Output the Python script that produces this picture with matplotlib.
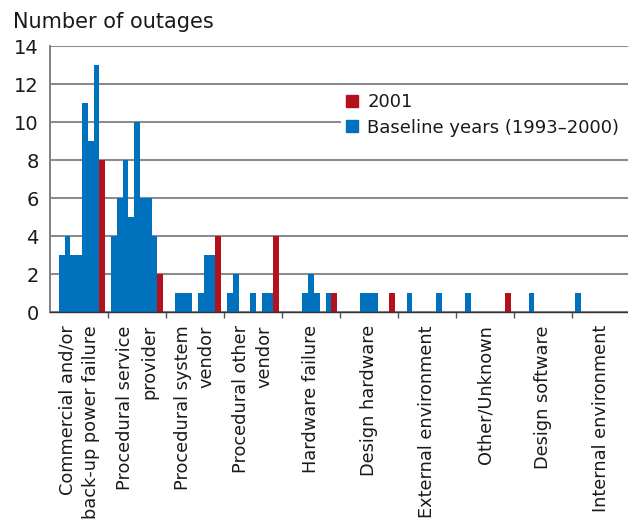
import matplotlib
matplotlib.use("Agg")

import matplotlib.pyplot as plt
from matplotlib.patches import Patch
import numpy as np

# categories (x axis)
categories = [
    "Commercial and/or\nback-up power failure",
    "Procedural service\nprovider",
    "Procedural system\nvendor",
    "Procedural other\nvendor",
    "Hardware failure",
    "Design hardware",
    "External environment",
    "Other/Unknown",
    "Design software",
    "Internal environment",
]

# outages per year 1993..2000, one row per category
baseline = [
    [0, 3, 4, 3, 3, 11, 9, 13],
    [4, 6, 8, 5, 10, 6, 6, 4],
    [0, 1, 1, 1, 0, 1, 3, 3],
    [1, 2, 0, 0, 1, 0, 1, 1],
    [0, 0, 0, 1, 2, 1, 0, 1],
    [0, 0, 0, 1, 1, 1, 0, 0],
    [0, 1, 0, 0, 0, 0, 1, 0],
    [0, 1, 0, 0, 0, 0, 0, 0],
    [0, 0, 1, 0, 0, 0, 0, 0],
    [1, 0, 0, 0, 0, 0, 0, 0],
]

# outages in 2001
y2001 = [8, 2, 4, 4, 1, 1, 0, 1, 0, 0]

yticks = [0, 2, 4, 6, 8, 10, 12, 14]

BLUE = "#0071bc"
RED = "#b3121c"
GRID = "#8c8c8c"

W, H = 628, 523
fig = plt.figure(figsize=(W / 100, H / 100), dpi=100)
ax = fig.add_axes([50 / W, 1 - 312 / H, 578 / W, 266 / H])

bw = 0.1
for i, vals in enumerate(baseline):
    xs = i + 0.05 + bw * np.arange(len(vals))
    ax.bar(xs, vals, width=bw, align="edge", color=BLUE, linewidth=0, zorder=3)
    ax.bar(i + 0.05 + bw * len(vals), y2001[i], width=bw, align="edge",
           color=RED, linewidth=0, zorder=3)

ax.set_xlim(0, 578 / 58)
ax.set_ylim(0, 14)
ax.set_yticks(yticks)
ax.tick_params(axis="y", length=0, pad=8, labelsize=14, labelcolor="#1a1a1a")
ax.yaxis.grid(True, color=GRID, linewidth=1.5, zorder=0)
ax.set_axisbelow(True)

# boundaries between categories as ticks, names at the centres
ax.set_xticks(np.arange(1, len(categories)))
ax.set_xticklabels([])
ax.tick_params(axis="x", which="major", length=4, width=1, color="#555555")
ax.set_xticks(np.arange(len(categories)) + 0.5, minor=True)
ax.set_xticklabels(categories, minor=True, rotation=90, ha="center", va="top",
                   fontsize=12.8, color="#1a1a1a", multialignment="right",
                   linespacing=1.42)
ax.tick_params(axis="x", which="minor", length=0, pad=9.5)

for s in ["top", "right"]:
    ax.spines[s].set_visible(False)
ax.spines["left"].set_color("#808080")
ax.spines["left"].set_linewidth(1.4)
ax.spines["bottom"].set_color("#333333")
ax.spines["bottom"].set_linewidth(1.0)
ax.spines["bottom"].set_zorder(4)

fig.text(13 / W, 1 - 28 / H, "Number of outages", fontsize=15,
         color="#1a1a1a", va="baseline", ha="left")

handles = [Patch(color=RED, label="2001"),
           Patch(color=BLUE, label="Baseline years (1993\u20132000)")]
leg = fig.legend(handles=handles, loc="upper left", mode="expand",
                 bbox_to_anchor=(341 / W, 1 - 88 / H, (W - 341) / W, 0),
                 frameon=True, fontsize=13, handlelength=0.65,
                 handleheight=0.65, handletextpad=0.5, labelspacing=0.4,
                 borderpad=0.3, borderaxespad=0)
leg.get_frame().set_edgecolor("none")
leg.get_frame().set_facecolor("white")
leg.get_frame().set_alpha(1)
leg.get_frame().set_boxstyle("square", pad=0)
for t in leg.get_texts():
    t.set_color("#1a1a1a")

fig.savefig("out.png", dpi=100)
